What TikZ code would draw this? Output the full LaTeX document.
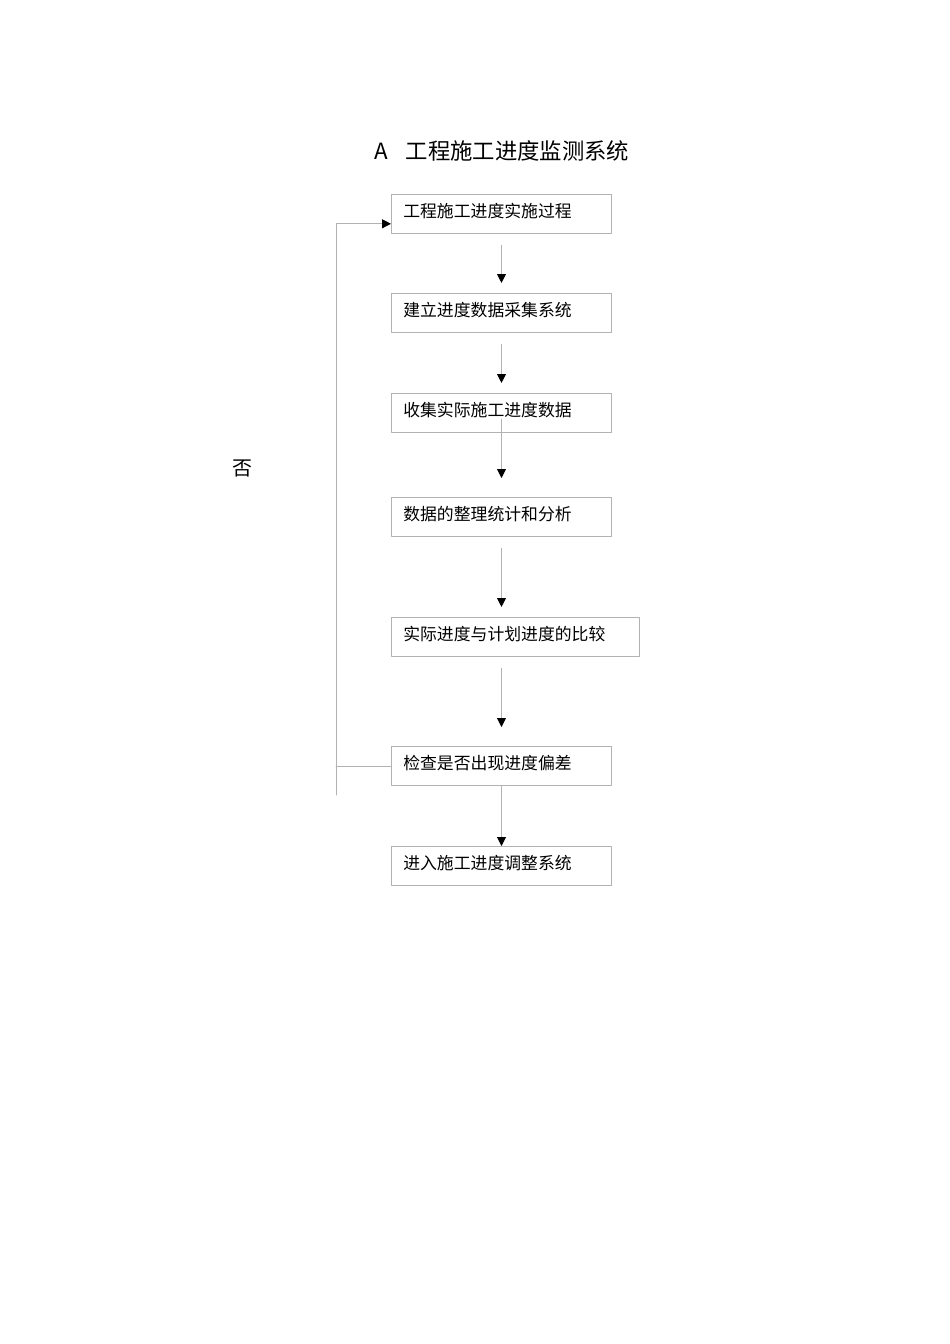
\documentclass[tikz,border=0pt]{standalone}
\usepackage{fontspec}
\setmainfont{Noto Sans CJK SC}
\usetikzlibrary{arrows.meta}

\begin{document}
\begin{tikzpicture}[x=0.6263pt,y=-0.6263pt,line cap=round,line join=round,
  box/.style={draw=black!30,line width=0.6pt,anchor=north west,text width=123pt,align=left,minimum height=24.7pt,inner xsep=7.4pt,text height=7.1pt,text depth=2.9pt,font=\fontsize{10.55}{12}\selectfont},
  link/.style={draw=black!30,line width=0.6pt},
  flow/.style={link,-{Triangle[length=5.6pt,width=5.6pt,black]}}]
\useasboundingbox (0,0) rectangle (950,1344);
\node[anchor=west,font=\fontsize{14}{16}\selectfont] (title) at (369,151) {A\hspace{11pt}工程施工进度监测系统};
\node[box] (b1) at (391,194) {工程施工进度实施过程};
\node[box] (b2) at (391,293) {建立进度数据采集系统};
\node[box] (b3) at (391,393) {收集实际施工进度数据};
\node[box] (b4) at (391,497) {数据的整理统计和分析};
\node[box,text width=140.5pt] (b5) at (391,617) {实际进度与计划进度的比较};
\node[box] (b6) at (391,746) {检查是否出现进度偏差};
\node[box] (b7) at (391,846) {进入施工进度调整系统};
\node[font=\fontsize{12.5}{14}\selectfont] (no) at (242,468) {否};
\coordinate (fb) at (336,795);
\draw[flow,shorten <=6.9pt,shorten >=6.3pt] (b1.south) -- (b2.north);
\draw[flow,shorten <=6.9pt,shorten >=6.3pt] (b2.south) -- (b3.north);
\draw[flow,shorten <=-8.8pt,shorten >=11.9pt] (b3.south) -- (b4.north);
\draw[flow,shorten <=6.9pt,shorten >=6.3pt] (b4.south) -- (b4.south |- b5.north);
\draw[flow,shorten <=6.9pt,shorten >=11.9pt] (b6.north |- b5.south) -- (b6.north);
\draw[flow] (b6.south) -- (b7.north);
% feedback loop
\draw[link] (b6.west) -- (b6.west -| fb);
\draw[flow] (fb) |- ([yshift=-6pt]b1.west);
\end{tikzpicture}
\end{document}
